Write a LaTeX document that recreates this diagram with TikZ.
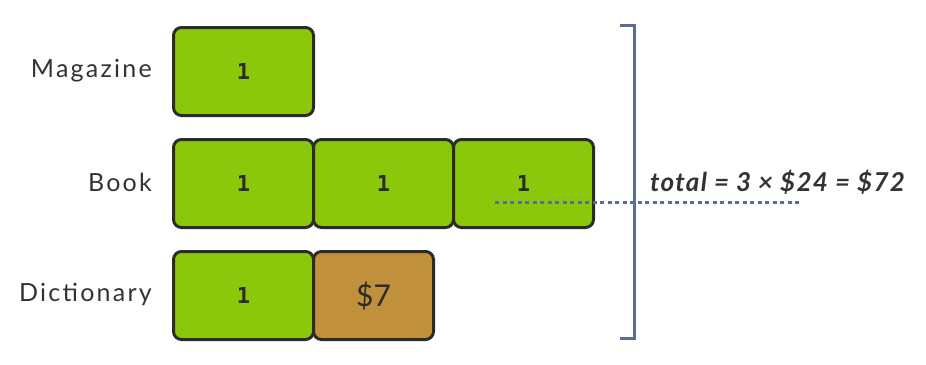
\documentclass[tikz,border=0pt]{standalone}
\usepackage{fontspec}
\setmainfont{Lato}
\newfontfamily\labelfont[LetterSpace=9]{Lato}
\newfontfamily\totalfont[LetterSpace=5]{Lato}
\newfontfamily\numfont{DejaVu Sans Mono}
\begin{document}
\begin{tikzpicture}[x=1pt,y=-1pt,
  boxbase/.style={draw=boxline, line width=3pt, rounded corners=8pt, minimum width=140pt, minimum height=88pt, anchor=north west, inner sep=0pt, text=boxline},
  greenbox/.style={boxbase, fill=boxgreen, font=\numfont\bfseries\fontsize{22}{24}\selectfont},
  brownbox/.style={boxbase, fill=boxbrown, minimum width=120pt, font=\fontsize{30}{32}\selectfont},
  rowlabel/.style={anchor=east, text=labeltext, font=\labelfont\fontsize{25}{28}\selectfont, inner sep=0pt},
  bracketline/.style={draw=bracketblue, line width=3pt},
  dotline/.style={draw=bracketblue, line width=3pt, dash pattern=on 4pt off 3.5pt}
]
\definecolor{boxgreen}{HTML}{8BC70A}
\definecolor{boxbrown}{HTML}{C0913A}
\definecolor{boxline}{HTML}{2B2B2B}
\definecolor{labeltext}{HTML}{333333}
\definecolor{bracketblue}{HTML}{5A6F90}
\useasboundingbox (0,0) rectangle (926,364);
% labels
\node[rowlabel] (lmag) at (152,71) {Magazine};
\node[rowlabel] (lbook) at (152,182) {Book};
\node[rowlabel] (ldict) at (152,294) {Dictionary};
% boxes
\node[greenbox] (m1) at (172,26) {1};
\node[greenbox] (b1) at (172,138) {1};
\node[greenbox] (b2) at (312,138) {1};
\node[greenbox] (b3) at (452,138) {1};
\node[greenbox] (d1) at (172,250) {1};
\node[brownbox] (d2) at (312,250) {\$7};
% bracket
\coordinate (bt) at (620,25);
\coordinate (btr) at (634,25);
\coordinate (bbr) at (634,338);
\coordinate (bb) at (620,338);
\draw[bracketline, line join=miter] (bt) -- (btr) -- (bbr) -- (bb);
% dotted line
\coordinate (ds) at (495,202);
\coordinate (de) at (802,202);
\draw[dotline] (ds) -- (de);
% total
\node[anchor=west, text=labeltext, font=\totalfont\bfseries\itshape\fontsize{26}{28}\selectfont, inner sep=0pt] (tot) at (650,182) {total = 3 × \$24 = \$72};
\end{tikzpicture}
\end{document}
